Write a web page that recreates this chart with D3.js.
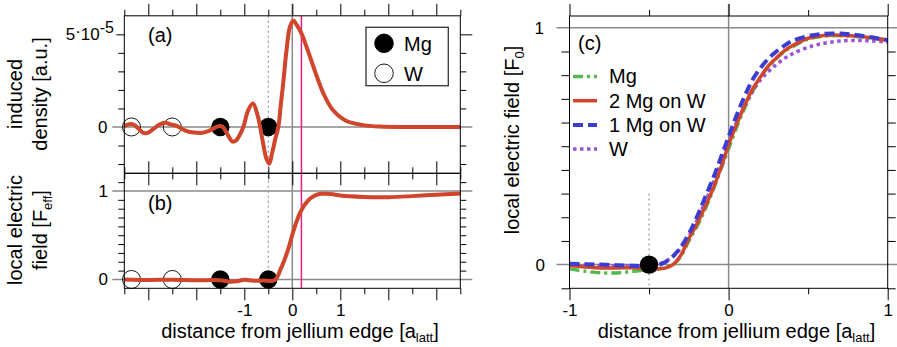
<!DOCTYPE html>
<html>
<head>
<meta charset="utf-8">
<script src="https://cdn.jsdelivr.net/npm/d3@7"></script>
<style>
  html, body { margin: 0; padding: 0; background: #fff; }
  svg { display: block; }
</style>
</head>
<body>
<script>
// ---------- data ----------
// Panel (a): induced density along the surface normal (jellium edge at 0)
const densDist = [-3.5, -3.4, -3.3, -3.2, -3.1, -3.0, -2.9, -2.8, -2.7, -2.62, -2.55, -2.5, -2.4, -2.3, -2.2,
  -2.05, -1.9, -1.75, -1.62, -1.52, -1.45, -1.35, -1.25, -1.18, -1.1, -1.02, -0.92, -0.82, -0.72, -0.67,
  -0.6, -0.54, -0.48, -0.42, -0.35, -0.29, -0.24, -0.19, -0.12, -0.05, 0.02, 0.08, 0.19, 0.3, 0.44,
  0.65, 0.85, 1.13, 1.48, 1.83, 2.3, 2.8, 3.5];
const densVal = [0.05e-5, 0.15e-5, 0.12e-5, -0.1e-5, -0.32e-5, -0.3e-5, -0.12e-5, 0.08e-5, 0.2e-5, 0.22e-5,
  0.15e-5, 0.12e-5, 0.05e-5, -0.1e-5, -0.22e-5, -0.3e-5, -0.32e-5, -0.22e-5, -0.05e-5, 0.05e-5, 0.0,
  -0.4e-5, -0.78e-5, -0.75e-5, -0.45e-5, 0.0, 0.9e-5, 1.27e-5, 0.6e-5, 0.0, -1.0e-5, -1.7e-5, -1.98e-5,
  -1.4e-5, -0.6e-5, 0.0, 1.2e-5, 2.35e-5, 4.15e-5, 5.4e-5, 5.74e-5, 5.55e-5, 5.05e-5, 4.3e-5, 3.25e-5,
  1.8e-5, 0.9e-5, 0.32e-5, 0.1e-5, 0.02e-5, 0.0, 0.0, 0.0];

// Panel (b): local field for 2 Mg layers on W, far range
const fieldFarDist = [-3.5, -3.0, -2.5, -2.0, -1.5, -1.3, -1.15];
const fieldFarVal = [0.0, -0.005, -0.003, -0.008, -0.01, -0.025, -0.02];
const fieldTailDist = [1.5, 2.0, 2.5, 3.0, 3.5];
const fieldTailVal = [0.932, 0.93, 0.942, 0.958, 0.972];

// Panel (c): local field near the edge, four systems
const nearDist = [-1, -0.9, -0.8, -0.7, -0.6, -0.5, -0.45, -0.4, -0.35, -0.3, -0.25, -0.2, -0.15, -0.1, -0.05,
  0, 0.05, 0.1, 0.15, 0.2, 0.25, 0.3, 0.35, 0.4, 0.5, 0.6, 0.7, 0.8, 0.9, 1.0];
const fieldMg = [-0.018, -0.028, -0.035, -0.035, -0.028, -0.02, -0.018, -0.012, 0.0, 0.035, 0.1, 0.16, 0.23,
  0.31, 0.4, 0.49, 0.58, 0.66, 0.73, 0.79, 0.835, 0.87, 0.9, 0.92, 0.953, 0.965, 0.967, 0.963, 0.956, 0.946];
const fieldTwoMgOnW = [-0.004, -0.01, -0.014, -0.014, -0.013, -0.015, -0.018, -0.015, 0.0, 0.04, 0.11, 0.17,
  0.241, 0.317, 0.406, 0.506, 0.592, 0.67, 0.741, 0.792, 0.839, 0.873, 0.903, 0.924, 0.956, 0.968, 0.969,
  0.965, 0.958, 0.948];
const fieldOneMgOnW = [0.004, 0.002, 0.0, -0.003, -0.005, -0.006, -0.003, 0.01, 0.035, 0.075, 0.13, 0.2, 0.28,
  0.36, 0.45, 0.54, 0.63, 0.71, 0.78, 0.83, 0.87, 0.9, 0.925, 0.945, 0.965, 0.975, 0.976, 0.97, 0.96, 0.948];
const fieldW = [0.0, -0.002, -0.004, -0.005, -0.006, -0.005, 0.0, 0.012, 0.035, 0.07, 0.12, 0.185, 0.26, 0.34,
  0.43, 0.52, 0.6, 0.67, 0.73, 0.78, 0.815, 0.845, 0.87, 0.89, 0.918, 0.935, 0.944, 0.947, 0.945, 0.94];

// Atomic sites (in lattice units)
const mgSites = [-1.5, -0.5];
const wSites = [-3.35, -2.5];
const lastMgPlane = -0.5;
const imagePlane = 0.19;

// Series and legend entries
const seriesNames = ["Mg", "2 Mg on W", "1 Mg on W", "W"];
const atomNames = ["Mg", "W"];

// Axis ticks
const leftMajor = [-3, -2, -1, 0, 1, 2, 3];
const leftMinor = [-3.5, -2.5, -1.5, -0.5, 0.5, 1.5, 2.5, 3.5];
const leftLabelled = [-1, 0, 1];
const densMinor = [-2e-5, -1e-5, 1e-5, 2e-5, 3e-5, 4e-5];
const fieldBMinor = [0.1, 0.2, 0.3, 0.4, 0.5, 0.6, 0.7, 0.8, 0.9, 1.1];
const nearMajor = [-1, 0, 1];
const nearMinor = [-0.5, 0.5];
const fieldCMinor = [-0.1, 0.1, 0.2, 0.3, 0.4, 0.5, 0.6, 0.7, 0.8, 0.9];

// ---------- drawing ----------
const FONT = "'Liberation Sans', Arial, Helvetica, sans-serif";
const TICK_FS = 17;
const RED = "#d0452b", BLUE = "#3c3cd2", GREEN = "#52b84f", PURPLE = "#9a52d8";
const GRID = "#8a8a8a", PINK = "#ec1e82";

const svg = d3.select("body").append("svg")
  .attr("width", 897).attr("height", 347)
  .style("font-family", FONT);

const xL = d3.scaleLinear().domain([-3.5, 3.5]).range([124.3, 460.3]);
const yA = d3.scaleLinear().domain([-2.5e-5, 6e-5]).range([173.3, 15.8]);
const yB = d3.scaleLinear().domain([-0.1, 1.2]).range([288.3, 173.3]);
const xC = d3.scaleLinear().domain([-1, 1]).range([569.5, 887.7]);
const yC = d3.scaleLinear().domain([-0.1, 1.05]).range([288.3, 16]);

function axisPart(axisFn, scale, values, size, tx, ty, fmt) {
  const ax = axisFn(scale).tickValues(values).tickSize(size).tickPadding(4)
    .tickFormat(fmt || (() => ""));
  const g = svg.append("g").attr("transform", `translate(${tx},${ty})`).call(ax);
  g.select(".domain").remove();
  g.attr("font-family", FONT).attr("font-size", TICK_FS);
  g.selectAll("line").attr("stroke", "#000").attr("stroke-width", 1);
  g.selectAll("text").attr("fill", "#000");
  // unlabelled ticks keep only their line
  g.selectAll("text").filter(function () { return !this.textContent; }).remove();
  return g;
}
const hyphenFmt = d => (d < 0 ? "-" + Math.abs(d) : String(d));

function line(x1, y1, x2, y2, color, width, dash) {
  const l = svg.append("line").attr("x1", x1).attr("y1", y1).attr("x2", x2).attr("y2", y2)
    .attr("stroke", color).attr("stroke-width", width);
  if (dash) l.attr("stroke-dasharray", dash);
  return l;
}

// --- left panels: grid lines ---
const [aL, aR] = xL.range();
line(aL - 12, yA(0), aR + 12, yA(0), GRID, 1.5);
line(aL - 12, yB(0), aR + 12, yB(0), GRID, 1.5);
line(aL - 12, yB(1), aR + 12, yB(1), GRID, 1.5);
line(xL(0), yA.range()[1] - 12, xL(0), yB.range()[0], GRID, 1.5);
line(xL(lastMgPlane), yA.range()[1], xL(lastMgPlane), yB.range()[0], "#999", 1.2, "2,3");
line(xL(imagePlane), yA.range()[1], xL(imagePlane), yB.range()[0], PINK, 1.5);

// atoms drawn beneath the curves
function atoms(yScale) {
  svg.append("g").selectAll("circle").data(wSites).join("circle")
    .attr("cx", d => xL(d)).attr("cy", yScale(0)).attr("r", 9)
    .attr("fill", "none").attr("stroke", "#000").attr("stroke-width", 0.9);
  svg.append("g").selectAll("circle").data(mgSites).join("circle")
    .attr("cx", d => xL(d)).attr("cy", yScale(0)).attr("r", 9.2).attr("fill", "#000");
}
atoms(yA);
atoms(yB);

// induced density curve
const densPts = densDist.map((d, i) => [d, densVal[i]]);
svg.append("path").datum(densPts)
  .attr("d", d3.line().x(d => xL(d[0])).y(d => yA(d[1])).curve(d3.curveCatmullRom.alpha(0.5)))
  .attr("fill", "none").attr("stroke", RED).attr("stroke-width", 4).attr("stroke-linejoin", "round");

// local field (b)
const fieldBPts = fieldFarDist.map((d, i) => [d, fieldFarVal[i]])
  .concat(nearDist.map((d, i) => [d, fieldTwoMgOnW[i]]))
  .concat(fieldTailDist.map((d, i) => [d, fieldTailVal[i]]));
svg.append("path").datum(fieldBPts)
  .attr("d", d3.line().x(d => xL(d[0])).y(d => yB(d[1])).curve(d3.curveCatmullRom.alpha(0.5)))
  .attr("fill", "none").attr("stroke", RED).attr("stroke-width", 4).attr("stroke-linejoin", "round");

// frames
svg.append("rect").attr("x", aL).attr("y", yA.range()[1]).attr("width", aR - aL)
  .attr("height", yA.range()[0] - yA.range()[1]).attr("fill", "none").attr("stroke", "#000");
svg.append("rect").attr("x", aL).attr("y", yB.range()[1]).attr("width", aR - aL)
  .attr("height", yB.range()[0] - yB.range()[1]).attr("fill", "none").attr("stroke", "#000");

// x ticks of left panels
const aTop = yA.range()[1], abMid = yA.range()[0], bBot = yB.range()[0];
axisPart(d3.axisTop, xL, leftMajor, 12, 0, aTop);
axisPart(d3.axisTop, xL, leftMinor, 6, 0, aTop);
axisPart(d3.axisBottom, xL, leftMajor, 12, 0, abMid);
axisPart(d3.axisBottom, xL, leftMinor, 6, 0, abMid);
axisPart(d3.axisTop, xL, leftMajor, 12, 0, abMid);
axisPart(d3.axisTop, xL, leftMinor, 6, 0, abMid);
axisPart(d3.axisBottom, xL, leftMinor, 6, 0, bBot);
axisPart(d3.axisBottom, xL, leftMajor, 12, 0, bBot,
  d => (leftLabelled.includes(d) ? hyphenFmt(d) : ""));

// y ticks of left panels
axisPart(d3.axisLeft, yA, densMinor, 6, aL, 0);
axisPart(d3.axisLeft, yA, [5e-5], 8, aL, 0);
axisPart(d3.axisRight, yA, densMinor, 6, aR, 0);
axisPart(d3.axisRight, yA, [5e-5], 12, aR, 0);
axisPart(d3.axisLeft, yB, fieldBMinor, 6, aL, 0);
axisPart(d3.axisRight, yB, fieldBMinor, 6, aR, 0);

// y tick labels of left panels
const dTick = svg.append("text").attr("x", 114).attr("y", yA(5e-5) + 6)
  .attr("text-anchor", "end").attr("font-size", TICK_FS);
dTick.append("tspan").text("5");
dTick.append("tspan").attr("dy", -3).text("\u00b7");
dTick.append("tspan").attr("dy", 3).text("10");
dTick.append("tspan").attr("font-size", 16).attr("dy", -7).text("-5");
svg.append("text").attr("x", 107.5).attr("y", yA(0) + 6).attr("text-anchor", "end")
  .attr("font-size", TICK_FS).text("0");
svg.append("text").attr("x", 108).attr("y", yB(1) + 6).attr("text-anchor", "end")
  .attr("font-size", TICK_FS).text("1");
svg.append("text").attr("x", 108).attr("y", yB(0) + 6).attr("text-anchor", "end")
  .attr("font-size", TICK_FS).text("0");

// panel letters
svg.append("text").attr("x", 148).attr("y", 41.5).attr("font-size", 20).text("(a)");
svg.append("text").attr("x", 148).attr("y", 209.5).attr("font-size", 20).text("(b)");

// legend (a)
const lg = svg.append("g");
lg.append("rect").attr("x", 366).attr("y", 27.3).attr("width", 82.3).attr("height", 58.4)
  .attr("fill", "#fff").attr("stroke", "#333").attr("stroke-width", 1.3);
atomNames.forEach((name, i) => {
  const cy = 43.3 + i * 30;
  lg.append("circle").attr("cx", 384).attr("cy", cy).attr("r", 9.3)
    .attr("fill", i === 0 ? "#000" : "none").attr("stroke", "#000").attr("stroke-width", 0.9);
  lg.append("text").attr("x", 404).attr("y", cy + 8).attr("font-size", 20).text(name);
});

// y titles of left panels
function vtitle(x, y, parts) {
  const t = svg.append("text").attr("transform", `translate(${x},${y}) rotate(-90)`)
    .attr("text-anchor", "middle").attr("font-size", 20);
  parts.forEach(p => {
    const s = t.append("tspan").text(p.t);
    if (p.sub) s.attr("font-size", 13).attr("dy", 5);
    if (p.after) s.attr("dy", -5);
  });
  return t;
}
vtitle(22, 94, [{ t: "induced" }]);
vtitle(47, 94, [{ t: "density [a.u.]" }]);
vtitle(22, 230, [{ t: "local electric" }]);
vtitle(47, 230, [{ t: "field [F" }, { t: "eff", sub: true }, { t: "]", after: true }]);

// x titles
function xtitle(cx) {
  const t = svg.append("text").attr("x", cx).attr("y", 338).attr("text-anchor", "middle")
    .attr("font-size", 20);
  t.append("tspan").text("distance from jellium edge [a");
  t.append("tspan").attr("font-size", 13).attr("dy", 4).text("latt");
  t.append("tspan").attr("dy", -4).text("]");
}
xtitle(300);
xtitle(736.5);

// --- panel (c) ---
const [cL, cR] = xC.range();
const cTop = yC.range()[1], cBot = yC.range()[0];
line(cL - 13, yC(0), cR + 12, yC(0), GRID, 1.5);
line(cL - 13, yC(1), cR + 12, yC(1), GRID, 1.5);
line(xC(0), cTop - 12, xC(0), cBot, GRID, 1.5);
line(xC(lastMgPlane), yC(0.3), xC(lastMgPlane), cBot, "#999", 1.2, "2,3");

const styles = [
  { v: fieldMg, color: GREEN, dash: "10,4,3,4", w: 3.5 },
  { v: fieldTwoMgOnW, color: RED, dash: null, w: 3.5 },
  { v: fieldOneMgOnW, color: BLUE, dash: "10,5", w: 4 },
  { v: fieldW, color: PURPLE, dash: "3.5,3.5", w: 3.5 }
];
const drawOrder = [0, 3, 1, 2];
const cLine = d3.line().x(d => xC(d[0])).y(d => yC(d[1])).curve(d3.curveCatmullRom.alpha(0.5));
drawOrder.forEach(i => {
  const s = styles[i];
  const p = svg.append("path").datum(nearDist.map((d, j) => [d, s.v[j]]))
    .attr("d", cLine).attr("fill", "none").attr("stroke", s.color).attr("stroke-width", s.w);
  if (s.dash) p.attr("stroke-dasharray", s.dash);
});

svg.append("circle").attr("cx", xC(lastMgPlane)).attr("cy", yC(0)).attr("r", 9.2).attr("fill", "#000");

svg.append("rect").attr("x", cL).attr("y", cTop).attr("width", cR - cL).attr("height", cBot - cTop)
  .attr("fill", "none").attr("stroke", "#000");

axisPart(d3.axisTop, xC, nearMajor, 12, 0, cTop);
axisPart(d3.axisTop, xC, nearMinor, 6, 0, cTop);
axisPart(d3.axisBottom, xC, nearMinor, 6, 0, cBot);
axisPart(d3.axisBottom, xC, nearMajor, 12, 0, cBot, hyphenFmt);
axisPart(d3.axisLeft, yC, fieldCMinor, 8, cL, 0);
axisPart(d3.axisRight, yC, fieldCMinor, 8, cR, 0);

svg.append("text").attr("x", 544).attr("y", yC(1) + 6).attr("text-anchor", "end")
  .attr("font-size", TICK_FS).text("1");
svg.append("text").attr("x", 545).attr("y", yC(0) + 6).attr("text-anchor", "end")
  .attr("font-size", TICK_FS).text("0");

svg.append("text").attr("x", 578).attr("y", 49.5).attr("font-size", 20).text("(c)");

// legend (c)
seriesNames.forEach((name, i) => {
  const s = styles[i];
  const base = 83.3 + i * 24.2;
  line(573, base - 6.8, 597, base - 6.8, s.color, s.w, s.dash);
  svg.append("text").attr("x", 609).attr("y", base).attr("font-size", 20).text(name);
});

// y title (c)
vtitle(519, 140, [{ t: "local electric field [F" }, { t: "0", sub: true }, { t: "]", after: true }]);
</script>
</body>
</html>
